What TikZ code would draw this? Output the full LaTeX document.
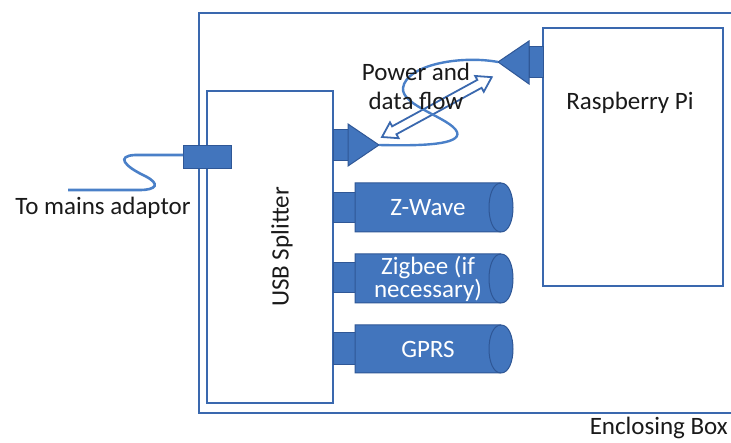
\documentclass[tikz,border=0pt]{standalone}
\usepackage{fontspec}
\setmainfont{Carlito}
\definecolor{boxblue}{HTML}{3A68AE}
\definecolor{plugblue}{HTML}{4275BD}
\definecolor{plugedge}{HTML}{2F5796}
\definecolor{cableblue}{HTML}{4A80C8}
\definecolor{txtgray}{HTML}{1A1A1A}
\begin{document}
\begin{tikzpicture}[x=1pt,y=-1pt,
  boxline/.style={draw=boxblue, line width=2.6pt},
  framebox/.style={boxline, rectangle, inner sep=0pt, outer sep=0pt, fill=white},
  plug/.style={fill=plugblue, draw=plugedge, line width=1pt},
  cable/.style={draw=cableblue, line width=2.6pt},
  lbl/.style={font=\fontsize{25}{29}\selectfont, text=txtgray, inner sep=0pt, align=center},
  cyltext/.style={font=\fontsize{25}{23}\selectfont, text=white, inner sep=0pt, align=center},
  dblarrow/.style={draw=boxblue, line width=1.8pt, fill=white, line join=miter}
]
\useasboundingbox (0,0) rectangle (731,443);
\fill[white] (0,0) rectangle (731,443);

% enclosing box
\draw[boxline, line width=2.8pt] (199,13) rectangle (745,413);
\node[lbl, anchor=east] (encl) at (728,428) {Enclosing Box};

% usb splitter
\node[framebox, minimum width=126pt, minimum height=312pt, anchor=north west] (usb) at (207,91) {};
\node[lbl, rotate=90] (usbtext) at (282,247) {USB Splitter};

% raspberry pi
\node[framebox, minimum width=180pt, minimum height=258pt, anchor=north west] (pi) at (543,28) {};
\node[lbl] (pitext) at (630,103) {Raspberry Pi};

% left mains connector
\node[plug, rectangle, inner sep=0pt, minimum width=48pt, minimum height=23pt, anchor=north west] (mainsplug) at (183,145) {};
\coordinate (mainsend) at (68,190);
\draw[cable] (mainsplug.west) ++(0,-2) -- (135,155) .. controls (116,156) and (124,166) .. (145,176)
  .. controls (161,184) and (156,190) .. (140,190) -- (mainsend);
\node[lbl] (mains) at (103,208) {To mains adaptor};

% splitter output plug
\fill[plugblue, draw=plugedge, line width=1pt] (333,130) rectangle (350,161);
\draw[plug] (348,124) -- (379,145) -- (348,166) -- cycle;
\coordinate (splittip) at (379,145);

% pi plug
\fill[plugblue, draw=plugedge, line width=1pt] (529,47) rectangle (543,78);
\draw[plug] (529,41) -- (498,62) -- (529,84) -- cycle;
\coordinate (pitip) at (498,62);

% power and data flow double arrow
\begin{scope}[shift={(382,137)}, rotate=28.6]
  \draw[dblarrow] (0,0) -- (14,9) -- (14,4.5) -- (111,4.5) -- (111,9) -- (125,0)
    -- (111,-9) -- (111,-4.5) -- (14,-4.5) -- (14,-9) -- cycle;
\end{scope}

% cable loop between splitter and pi
\draw[cable, line width=2.4pt] (splittip) .. controls (420,146) and (462,145) .. (457,132)
  .. controls (451,118) and (401,106) .. (403,88)
  .. controls (406,65) and (460,55) .. (pitip);

\node[lbl] (flow) at (416,86) {Power and\\data flow};

% USB dongles
\foreach \name/\ya/\yb/\ca/\cb/\txt in {
  zwave/183/232/193/223/{Z-Wave},
  zigbee/254/303/263/293/{Zigbee (if\\necessary)},
  gprs/325/373/333/365/{GPRS}} {
  \fill[plugblue, draw=plugedge, line width=1pt] (333,\ca) rectangle (357,\cb);
  \draw[plug] (355,\ya) -- (501,\ya) .. controls (517,\ya) and (517,\yb) .. (501,\yb) -- (355,\yb) -- cycle;
  \draw[plugedge, line width=1pt] (501,\ya) .. controls (485,\ya) and (485,\yb) .. (501,\yb);
  \node[cyltext] (\name) at (428,{(\ya+\yb)/2}) {\txt};
}
\end{tikzpicture}
\end{document}
